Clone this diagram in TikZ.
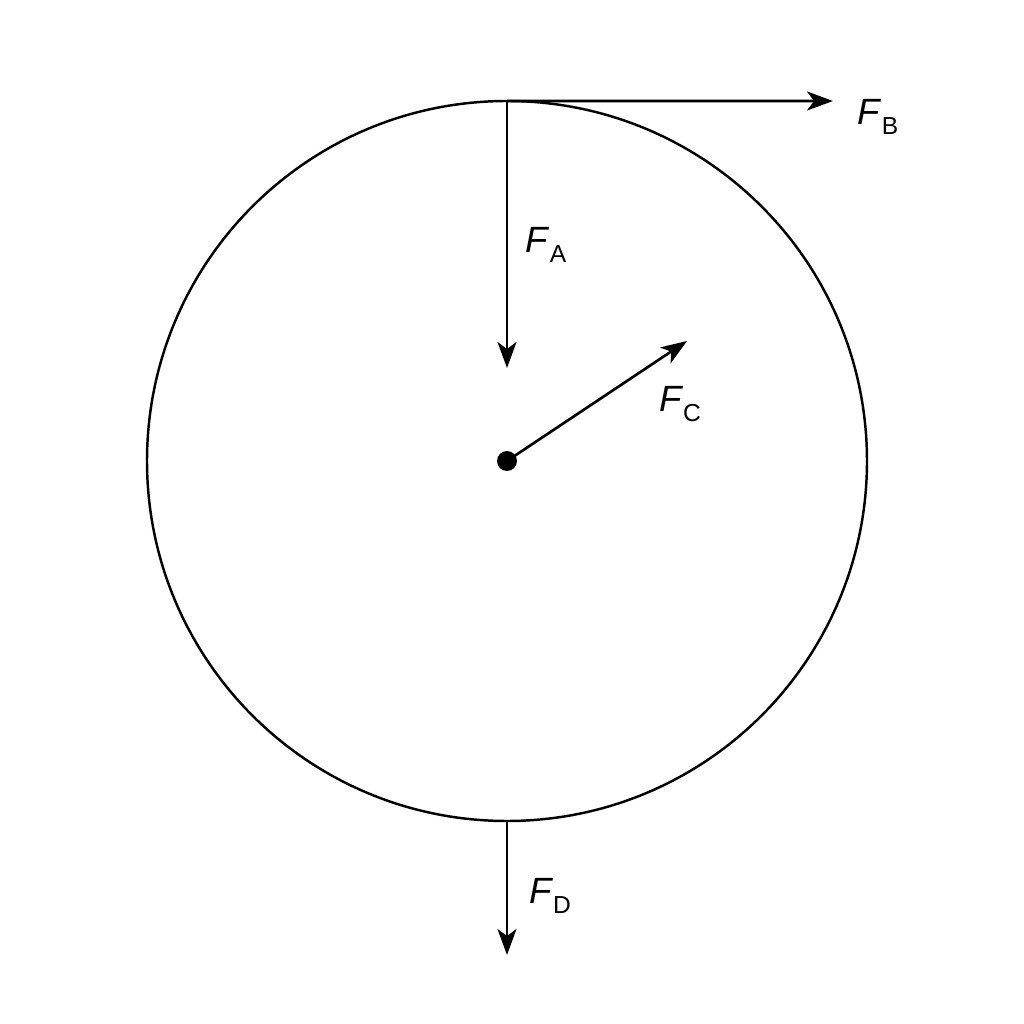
\documentclass[tikz,border=0pt]{standalone}
\usepackage{fontspec}
\setmainfont{Liberation Sans}
\usetikzlibrary{arrows.meta, calc, positioning}

\newcommand{\forcelabel}[1]{\textit{F}\raisebox{-2.7pt}{\fontsize{7}{8}\selectfont #1}}

\begin{document}
\begin{tikzpicture}[
  force/.style={draw, line width=0.75pt, -{Stealth[length=2.6mm, width=1.9mm, inset=0.7mm]}},
  force label/.style={font=\fontsize{10.4}{12}\selectfont, inner sep=0pt},
  rim/.style={draw, line width=0.7pt},
  pivot/.style={circle, fill=black, inner sep=0pt, minimum size=2mm}
]
\useasboundingbox (0,0) rectangle (10.24,10.24);

% wheel and its centre
\coordinate (O) at (5.07,5.63);
\draw[rim] (O) circle (3.6);
\node[pivot] (centre) at (O) {};

% points on the rim
\coordinate (top) at ($(O)+(0,3.6)$);
\coordinate (bottom) at ($(O)+(0,-3.6)$);

% arrow ends
\coordinate (A end) at (5.07,6.56);
\coordinate (B end) at (8.33,9.23);
\coordinate (C end) at (6.87,6.83);
\coordinate (D end) at (5.07,0.69);

\draw[force] (top) -- (A end);
\draw[force] (top) -- (B end);
\draw[force] (centre.center) -- (C end);
\draw[force] (bottom) -- (D end);

% labels
\node[force label] (FA) at (5.46,7.79) {\forcelabel{A}};
\node[force label] (FB) at (8.78,9.07) {\forcelabel{B}};
\node[force label] (FC) at (6.80,6.20) {\forcelabel{C}};
\node[force label] (FD) at (5.50,1.28) {\forcelabel{D}};

\end{tikzpicture}
\end{document}
